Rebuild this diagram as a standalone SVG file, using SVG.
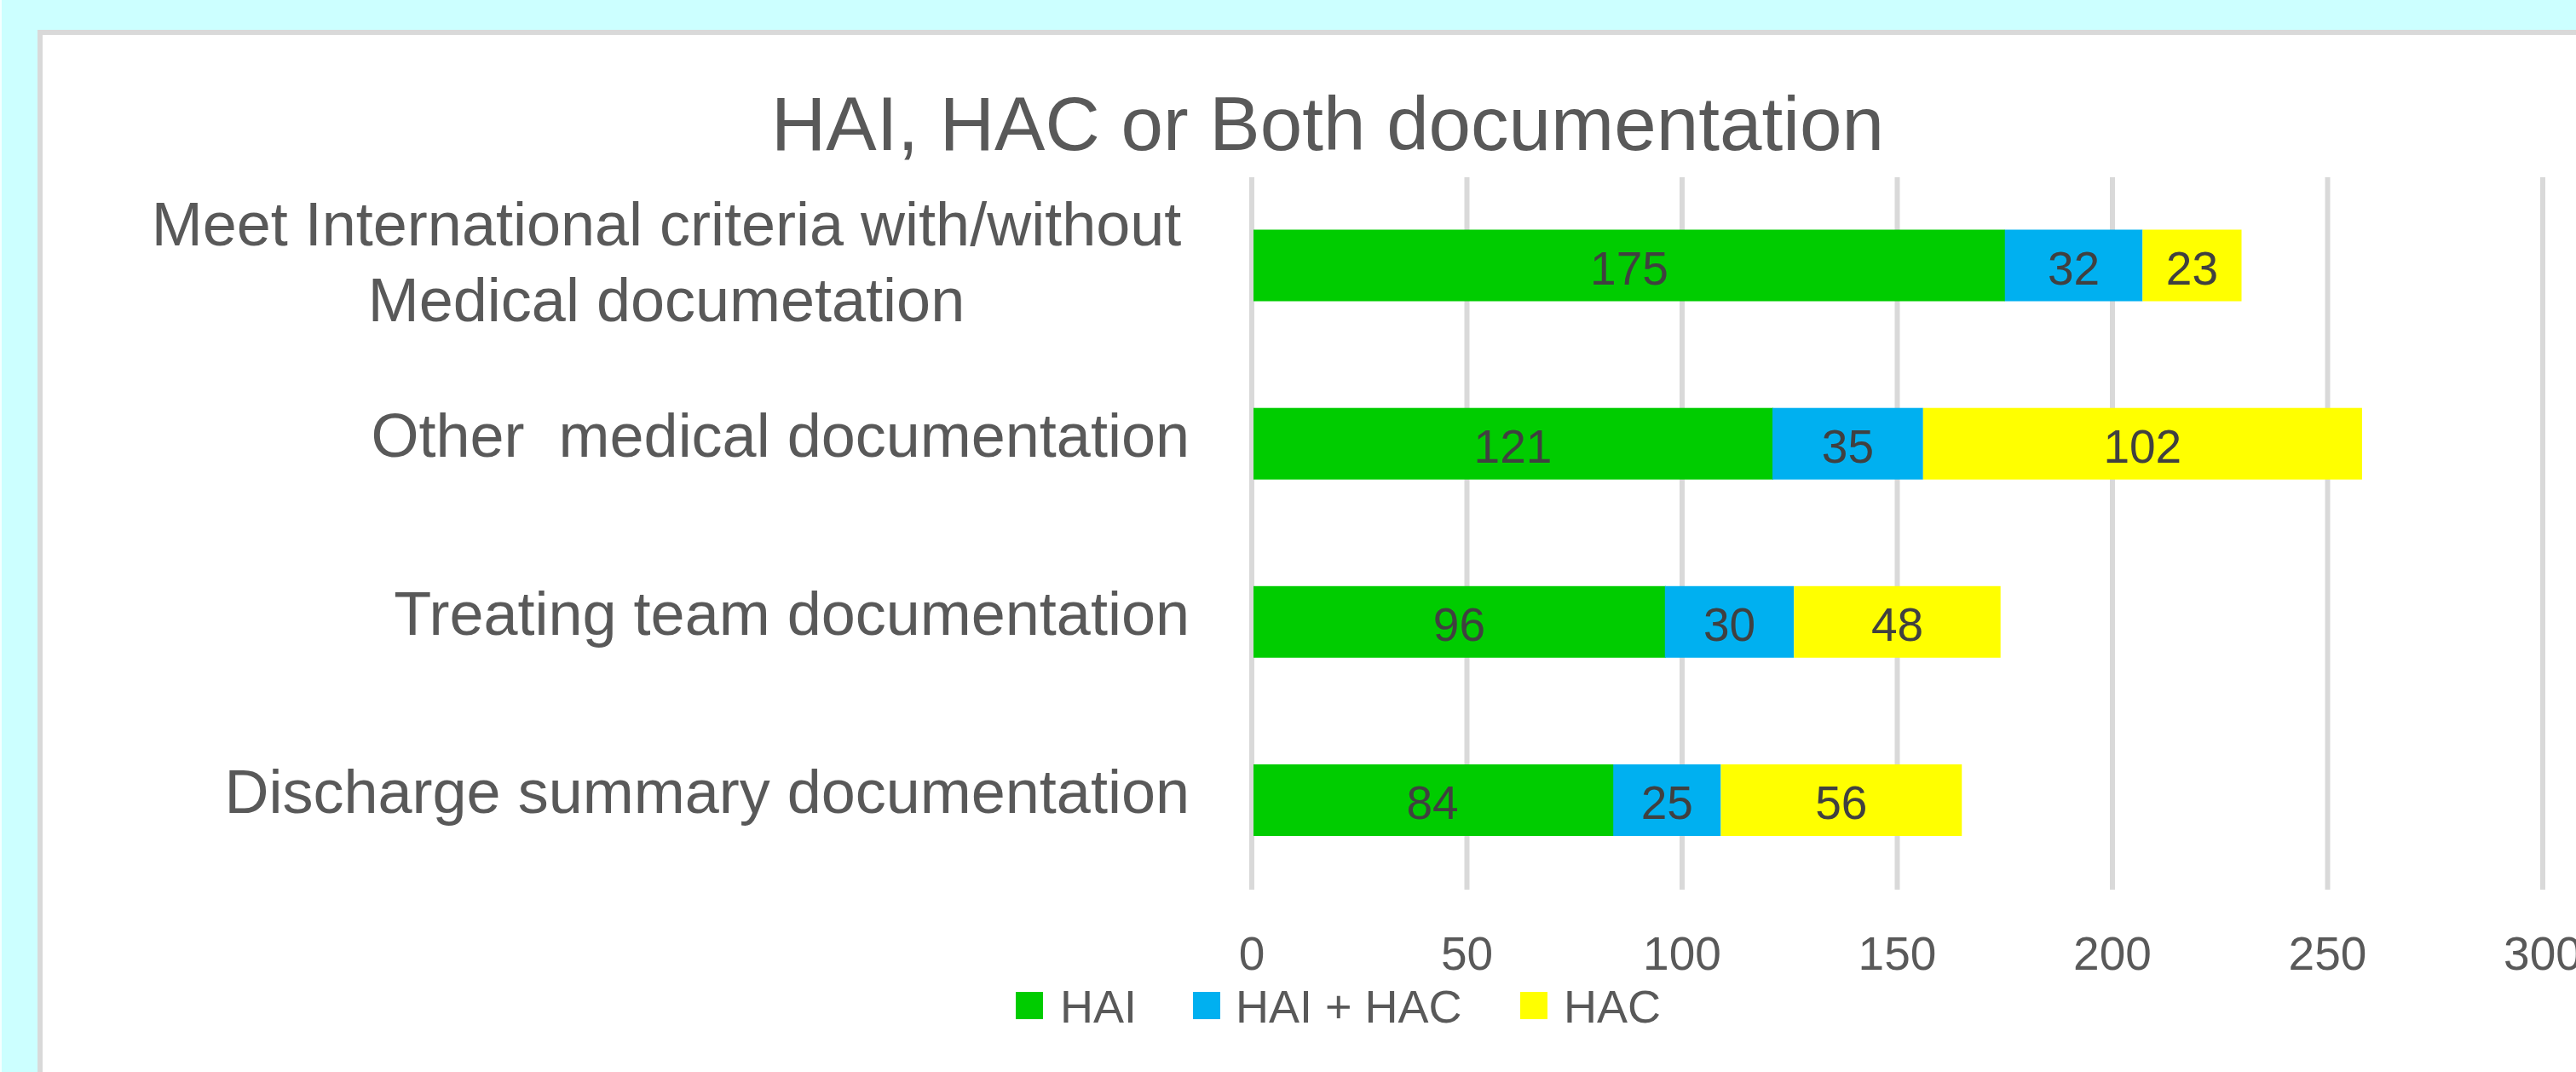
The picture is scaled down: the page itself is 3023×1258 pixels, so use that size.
<svg xmlns="http://www.w3.org/2000/svg" width="3023" height="1258" viewBox="0 0 3023 1258">
<style>
text{font-family:"Liberation Sans",Arial,sans-serif;fill:#595959}
.title{font-size:89px}
.cat{font-size:72px;white-space:pre}
.tick{font-size:55px;text-anchor:middle}
.dl{font-size:55px;text-anchor:middle;fill:#404040}
.leg{font-size:54px}
.grid{fill:#D9D9D9}
.hai{fill:#00CC00}
.both{fill:#00B0F0}
.hac{fill:#FFFF00}
</style>
<rect x="0" y="0" width="3023" height="1258" fill="#CCFFFF"/>
<rect x="0" y="0" width="2" height="1258" fill="#F4FFFF"/>
<rect id="chart-frame" x="47" y="38" width="3100" height="1400" fill="#FFFFFF" stroke="#D9D9D9" stroke-width="6"/>
<text id="title" class="title" x="1558" y="176" text-anchor="middle">HAI, HAC or Both documentation</text>
<g id="gridlines">
<rect class="grid" x="1466" y="208" width="6" height="836"/>
<rect class="grid" x="1718.5" y="208" width="6" height="836"/>
<rect class="grid" x="1971" y="208" width="6" height="836"/>
<rect class="grid" x="2223.5" y="208" width="6" height="836"/>
<rect class="grid" x="2476" y="208" width="6" height="836"/>
<rect class="grid" x="2728.5" y="208" width="6" height="836"/>
<rect class="grid" x="2981" y="208" width="6" height="836"/>
</g>
<g id="category-labels">
<text class="cat" x="782" y="288" text-anchor="middle">Meet International criteria with/without</text>
<text class="cat" x="782" y="377" text-anchor="middle">Medical documetation</text>
<text class="cat" x="1396" y="536" text-anchor="end" xml:space="preserve">Other  medical documentation</text>
<text class="cat" x="1396" y="745" text-anchor="end">Treating team documentation</text>
<text class="cat" x="1396" y="954" text-anchor="end">Discharge summary documentation</text>
</g>
<g id="bar-meet">
<rect class="hai" x="1471" y="269.5" width="882" height="84"/>
<rect class="both" x="2352.75" y="269.5" width="161.6" height="84"/>
<rect class="hac" x="2514.35" y="269.5" width="116.15" height="84"/>
<text class="dl" x="1912" y="334">175</text>
<text class="dl" x="2433.5" y="334">32</text>
<text class="dl" x="2572.4" y="334">23</text>
</g>
<g id="bar-other">
<rect class="hai" x="1471" y="478.7" width="610" height="84"/>
<rect class="both" x="2080.05" y="478.7" width="176.75" height="84"/>
<rect class="hac" x="2256.8" y="478.7" width="515.1" height="84"/>
<text class="dl" x="1775.5" y="543">121</text>
<text class="dl" x="2168.4" y="543">35</text>
<text class="dl" x="2514.3" y="543">102</text>
</g>
<g id="bar-treating">
<rect class="hai" x="1471" y="687.8" width="484" height="84"/>
<rect class="both" x="1953.8" y="687.8" width="151.5" height="84"/>
<rect class="hac" x="2105.3" y="687.8" width="242.4" height="84"/>
<text class="dl" x="1712.4" y="752">96</text>
<text class="dl" x="2029.5" y="752">30</text>
<text class="dl" x="2226.5" y="752">48</text>
</g>
<g id="bar-discharge">
<rect class="hai" x="1471" y="897" width="423" height="84"/>
<rect class="both" x="1893.2" y="897" width="126.25" height="84"/>
<rect class="hac" x="2019.45" y="897" width="282.8" height="84"/>
<text class="dl" x="1681" y="961">84</text>
<text class="dl" x="1956.3" y="961">25</text>
<text class="dl" x="2160.8" y="961">56</text>
</g>
<g id="axis-labels">
<text class="tick" x="1469" y="1138">0</text>
<text class="tick" x="1721.5" y="1138">50</text>
<text class="tick" x="1974" y="1138">100</text>
<text class="tick" x="2226.5" y="1138">150</text>
<text class="tick" x="2479" y="1138">200</text>
<text class="tick" x="2731.5" y="1138">250</text>
<text class="tick" x="2984" y="1138">300</text>
</g>
<g id="legend">
<rect class="hai" x="1192" y="1164" width="32" height="32"/>
<text class="leg" x="1244" y="1200">HAI</text>
<rect class="both" x="1400" y="1164" width="32" height="32"/>
<text class="leg" x="1450" y="1200">HAI + HAC</text>
<rect class="hac" x="1784" y="1164" width="32" height="32"/>
<text class="leg" x="1835" y="1200">HAC</text>
</g>
</svg>
